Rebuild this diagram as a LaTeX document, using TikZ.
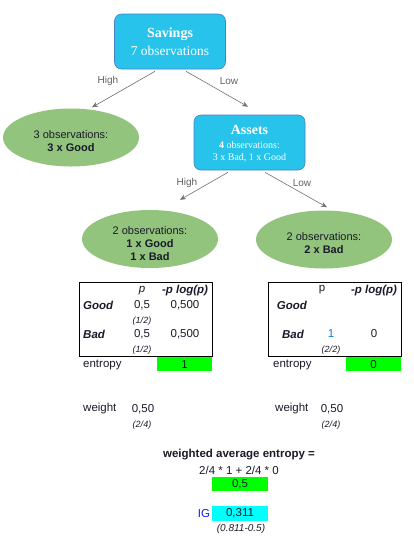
\documentclass[tikz,border=0pt]{standalone}
\usepackage{fontspec}
\setmainfont{Liberation Serif}
\newfontfamily\arial{Liberation Sans}
\usetikzlibrary{shapes.geometric,arrows.meta,calc}
\definecolor{boxblue}{HTML}{27C3EB}
\definecolor{boxedge}{HTML}{4A7FC8}
\definecolor{leafgreen}{HTML}{93C47D}
\definecolor{edgegray}{HTML}{707070}
\definecolor{labgray}{HTML}{606060}
\definecolor{txt}{HTML}{1A1A2A}
\definecolor{numblue}{HTML}{1080D0}
\definecolor{igblue}{HTML}{1020E0}
\definecolor{brightgreen}{HTML}{00FF00}
\definecolor{brightcyan}{HTML}{00FFFF}
\begin{document}
\begin{tikzpicture}[x=1pt,y=-1pt,
  splitbox/.style={draw=boxedge,line width=0.6pt,fill=boxblue,rounded corners=7pt,
    minimum width=111pt,minimum height=55pt,inner sep=0pt},
  boxtext/.style={text=white,align=center,inner sep=0pt},
  leaf/.style={ellipse,fill=leafgreen,minimum width=136pt,minimum height=58pt,inner sep=0pt},
  leaftext/.style={align=center,font=\arial\fontsize{11}{13}\selectfont,text=txt,inner sep=0pt},
  arr/.style={draw=edgegray,line width=0.6pt,-{Stealth[length=6pt,width=5pt]}},
  elab/.style={font=\arial\fontsize{10}{12}\selectfont,text=labgray},
  tt/.style={font=\arial\fontsize{11.5}{13}\selectfont,text=txt,inner sep=0pt},
  th/.style={font=\arial\bfseries\itshape\fontsize{11.5}{13}\selectfont,text=txt,inner sep=0pt},
  ts/.style={font=\arial\itshape\fontsize{9}{10}\selectfont,text=txt,inner sep=0pt},
  frame/.style={draw=black,line width=0.9pt},
]
\path[use as bounding box] (0,0) rectangle (414,542);

% tree
\node[splitbox] (sav) at (170,41.5) {};
\node[boxtext,font=\bfseries\fontsize{14}{16}\selectfont] (savt) at (170,34) {Savings};
\node[boxtext,font=\fontsize{13.5}{16}\selectfont] (savs) at (170,51) {7 observations};

\node[leaf] (leftE) at (71,137.5) {};
\node[leaftext] (leftT) at (71,141.5) {3 observations:\\\textbf{3 x Good}};

\node[splitbox] (ass) at (249.5,142.5) {};
\node[boxtext,font=\bfseries\fontsize{14}{16}\selectfont] (asst) at (249.5,130) {Assets};
\node[boxtext,font=\fontsize{10}{12}\selectfont] (asss) at (249.5,152) {\textbf{4} observations:\\3 x Bad, 1 x Good};

\node[leaf] (midE) at (150,239) {};
\node[leaftext] (midT) at (150,243.5) {2 observations:\\\textbf{1 x Good}\\\textbf{1 x Bad}};
\node[leaf] (rightE) at (324,239.5) {};
\node[leaftext] (rightT) at (324,243) {2 observations:\\\textbf{2 x Bad}};

\draw[arr] ([xshift=-15pt,yshift=-2pt]sav.south) -- ([xshift=21pt,yshift=1pt]leftE.north);
\draw[arr] ([xshift=16pt,yshift=-2pt]sav.south) -- ([xshift=-1.5pt,yshift=8pt]ass.north);
\draw[arr] ([xshift=-21.5pt,yshift=-2pt]ass.south) -- ([xshift=30pt,yshift=10pt]midE.north);
\draw[arr] ([xshift=15.5pt,yshift=-2pt]ass.south) -- ([xshift=3pt,yshift=3pt]rightE.north);
\node[elab] (h1) at (108,81) {High};
\node[elab] (l1) at (229,81) {Low};
\node[elab] (h2) at (187,183) {High};
\node[elab] (l2) at (302,183) {Low};

% left table
\draw[frame] (79,282) rectangle (212.5,356);
\node[th,font=\arial\itshape\fontsize{11.5}{13}\selectfont] (lp) at (142,291) {p};
\node[th] (lpl) at (185,291) {-p log(p)};
\node[th,anchor=west] (lg) at (83,305) {Good};
\node[tt] (lg1) at (142,305) {0,5};
\node[tt] (lg2) at (185,305) {0,500};
\node[ts] (lg3) at (142,321) {(1/2)};
\node[th,anchor=west] (lb) at (83,334) {Bad};
\node[tt] (lb1) at (142,334) {0,5};
\node[tt] (lb2) at (185,334) {0,500};
\node[ts] (lb3) at (142,350) {(1/2)};
\node[tt,anchor=west] (le) at (83,365) {entropy};
\fill[brightgreen] (157,357) rectangle (212,371);
\node[tt] (le1) at (184.5,364.5) {1};
\node[tt,anchor=west] (lw) at (83,409) {weight};
\node[tt] (lw1) at (143,409) {0,50};
\node[ts] (lw2) at (142,425) {(2/4)};

% right table
\draw[frame] (268,282) rectangle (401.5,356);
\node[tt] (rp) at (322,290) {p};
\node[th] (rpl) at (374,291) {-p log(p)};
\node[th] (rg) at (292,305) {Good};
\node[th] (rb) at (293,334) {Bad};
\node[tt,text=numblue] (rb1) at (331,334) {1};
\node[tt] (rb2) at (374,334) {0};
\node[ts] (rb3) at (331,350) {(2/2)};
\node[tt,anchor=west] (re) at (273,365) {entropy};
\fill[brightgreen] (346,357) rectangle (401,371);
\node[tt] (re1) at (373.5,364.5) {0};
\node[tt,anchor=west] (rw) at (275,409) {weight};
\node[tt] (rw1) at (332,409) {0,50};
\node[ts] (rw2) at (331,425) {(2/4)};

% bottom
\node[tt,font=\arial\bfseries\fontsize{11.5}{13}\selectfont] (wa) at (239,455) {weighted average entropy =};
\node[tt] (wf) at (239,470) {2/4 * 1 + 2/4 * 0};
\fill[brightgreen] (212,477) rectangle (268,491);
\node[tt] (wv) at (240,484) {0,5};
\node[tt,text=igblue] (ig) at (204,514) {IG};
\fill[brightcyan] (212,506) rectangle (268,521);
\node[tt] (igv) at (240,513.5) {0,311};
\node[ts,font=\arial\itshape\fontsize{10}{11}\selectfont] (igf) at (241,529) {(0.811-0.5)};
\end{tikzpicture}
\end{document}
